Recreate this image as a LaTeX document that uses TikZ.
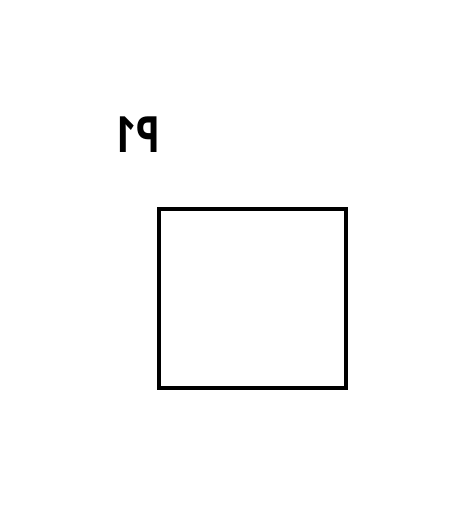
\documentclass[tikz,border=0pt]{standalone}
\usepackage{fontspec}
\setmainfont{Open Sans}
\begin{document}
\begin{tikzpicture}[x=1pt,y=-1pt,
  box/.style={draw=black,line width=4.5pt,minimum width=187pt,minimum height=179pt,inner sep=0pt},
  lbl/.style={font=\fontsize{50}{50}\selectfont\bfseries,inner sep=0pt,xscale=-0.78}]
\useasboundingbox (0,0) rectangle (465,508);
\node[box] (sq) at (252.5,298.5) {};
\node[lbl,anchor=base] (p1) at (137.5,152) {P1};
\end{tikzpicture}
\end{document}
